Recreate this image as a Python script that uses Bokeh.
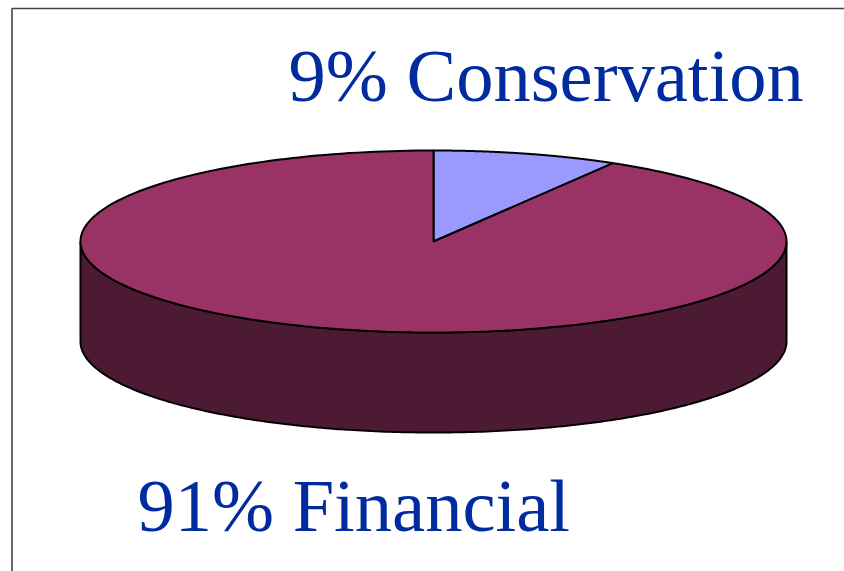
import numpy as np
from bokeh.plotting import figure
from bokeh.models import Range1d
from bokeh.core.properties import value
from bokeh.embed import file_html
from bokeh.resources import INLINE

# Data
categories = ["Conservation", "Financial"]
shares = [8.5, 91.5]
labels = ["9% Conservation", "91% Financial"]
colors = ["#9999FF", "#993366"]
side_color = "#4D1A33"
text_color = "#002CA0"

W, H = 844, 571
p = figure(width=W, height=H, x_range=Range1d(0, W), y_range=Range1d(H, 0),
           output_backend="svg", toolbar_location=None, min_border=0,
           outline_line_color=None, background_fill_color="white", border_fill_color="white")
p.axis.visible = False
p.grid.visible = False

# Frame of the chart area
p.line([11.5, 11.5, 860], [590, 8, 8], line_color="#444444", line_width=1.6)

cx, cy, rx, ry, depth = 433, 241, 353, 91, 100

def arc(a0, a1, n=240):
    a = np.radians(np.linspace(a0, a1, n))
    return cx + rx * np.sin(a), cy - ry * np.cos(a)

# Side wall
xs, ys = arc(90, 270)
p.patch(np.r_[xs, xs[::-1]], np.r_[ys, ys[::-1] + depth],
        fill_color=side_color, line_color="black", line_width=2)

# Top slices
total = sum(shares)
start = 0
for share, col in zip(shares, colors):
    end = start + 360 * share / total
    xs, ys = arc(start, end)
    p.patch(np.r_[cx, xs], np.r_[cy, ys], fill_color=col, line_color="black", line_width=2)
    start = end

# Labels
p.text([288], [75], text=[labels[0]], text_font=value("Liberation Serif"), text_font_size="74.5px",
       text_color=text_color, text_baseline="alphabetic")
p.text([137], [505], text=[labels[1]], text_font=value("Liberation Serif"), text_font_size="74.5px",
       text_color=text_color, text_baseline="alphabetic")

open("out.html", "w").write(file_html(p, INLINE))
